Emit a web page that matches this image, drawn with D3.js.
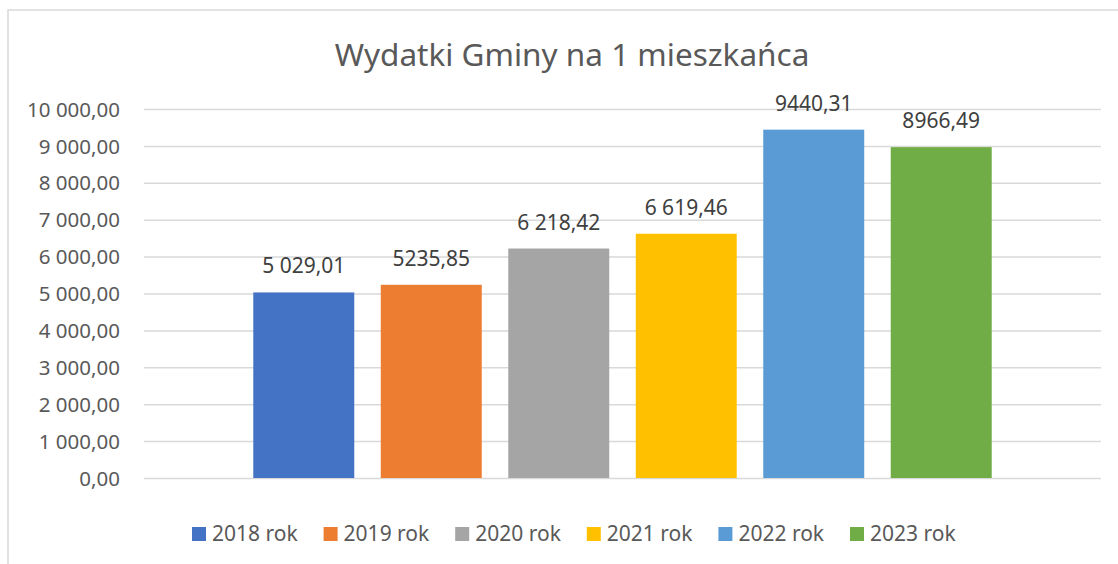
<!DOCTYPE html>
<html>
<head>
<meta charset="utf-8">
<script src="https://cdn.jsdelivr.net/npm/d3@7"></script>
<style>
  body { margin: 0; background: #fff; }
  svg text { font-family: "Noto Sans", "Open Sans", sans-serif; }
</style>
</head>
<body>
<div id="chart"></div>
<script>
// data
const years = ['2018 rok', '2019 rok', '2020 rok', '2021 rok', '2022 rok', '2023 rok'];
const values = [5029.01, 5235.85, 6218.42, 6619.46, 9440.31, 8966.49];
const valueLabels = ['5 029,01', '5235,85', '6 218,42', '6 619,46', '9440,31', '8966,49'];
const yTicks = [0, 1000, 2000, 3000, 4000, 5000, 6000, 7000, 8000, 9000, 10000];
const colors = ['#4472C4', '#ED7D31', '#A5A5A5', '#FFC000', '#5B9BD5', '#70AD47'];

const width = 1118, height = 564;
const margin = {top: 109, right: 17, bottom: 86, left: 144};
const plotW = width - margin.left - margin.right;
const plotH = height - margin.top - margin.bottom;

const svg = d3.select('#chart').append('svg')
  .attr('width', width)
  .attr('height', height);

// chart frame
svg.append('rect')
  .attr('x', 8).attr('y', 10)
  .attr('width', width + 20).attr('height', height + 20)
  .attr('fill', 'none')
  .attr('stroke', '#d9d9d9')
  .attr('stroke-width', 1.5);

svg.append('text')
  .attr('x', 572).attr('y', 66)
  .attr('text-anchor', 'middle')
  .style('font-size', '31.5px')
  .style('fill', '#595959')
  .text('Wydatki Gminy na 1 mieszkańca');

const g = svg.append('g')
  .attr('transform', 'translate(' + margin.left + ',' + margin.top + ')');

const y = d3.scaleLinear().domain([0, 10000]).range([plotH, 0]);

// single category group, one bar per year inside it
const x0 = d3.scaleBand().domain(['all']).range([0, plotW]).paddingOuter(0.148);
const x1 = d3.scaleBand().domain(years).range([0, x0.bandwidth()]).paddingInner(0.208);

const fmt = d => d3.format(',.2f')(d).replace(/,/g, ' ').replace('.', ',');

const yAxis = g.append('g')
  .call(d3.axisLeft(y).tickValues(yTicks).tickSize(-plotW).tickPadding(24).tickFormat(fmt));
yAxis.select('.domain').remove();
yAxis.selectAll('.tick line').attr('stroke', '#d9d9d9').attr('stroke-width', 1.5);
yAxis.selectAll('.tick text')
  .style('font-size', '20.5px')
  .style('fill', '#595959')
  .attr('dy', '0.35em');

const bars = g.append('g').attr('transform', 'translate(' + x0('all') + ',0)');

bars.selectAll('rect')
  .data(values)
  .enter()
  .append('rect')
  .attr('x', (d, i) => x1(years[i]))
  .attr('y', d => y(d))
  .attr('width', x1.bandwidth())
  .attr('height', d => plotH - y(d))
  .attr('fill', (d, i) => colors[i]);

bars.selectAll('.lbl')
  .data(values)
  .enter()
  .append('text')
  .attr('class', 'lbl')
  .attr('x', (d, i) => x1(years[i]) + x1.bandwidth() / 2)
  .attr('y', d => y(d) - 19)
  .attr('text-anchor', 'middle')
  .style('font-size', '21px')
  .style('fill', '#404040')
  .text((d, i) => valueLabels[i]);

// legend
const legend = svg.append('g').attr('transform', 'translate(192,527)');
const item = legend.selectAll('g')
  .data(years)
  .enter()
  .append('g')
  .attr('transform', (d, i) => 'translate(' + (i * 131.6) + ',0)');
item.append('rect')
  .attr('width', 14).attr('height', 14)
  .attr('fill', (d, i) => colors[i]);
item.append('text')
  .attr('x', 20).attr('y', 14)
  .style('font-size', '21px')
  .style('fill', '#595959')
  .text(d => d);
</script>
</body>
</html>
